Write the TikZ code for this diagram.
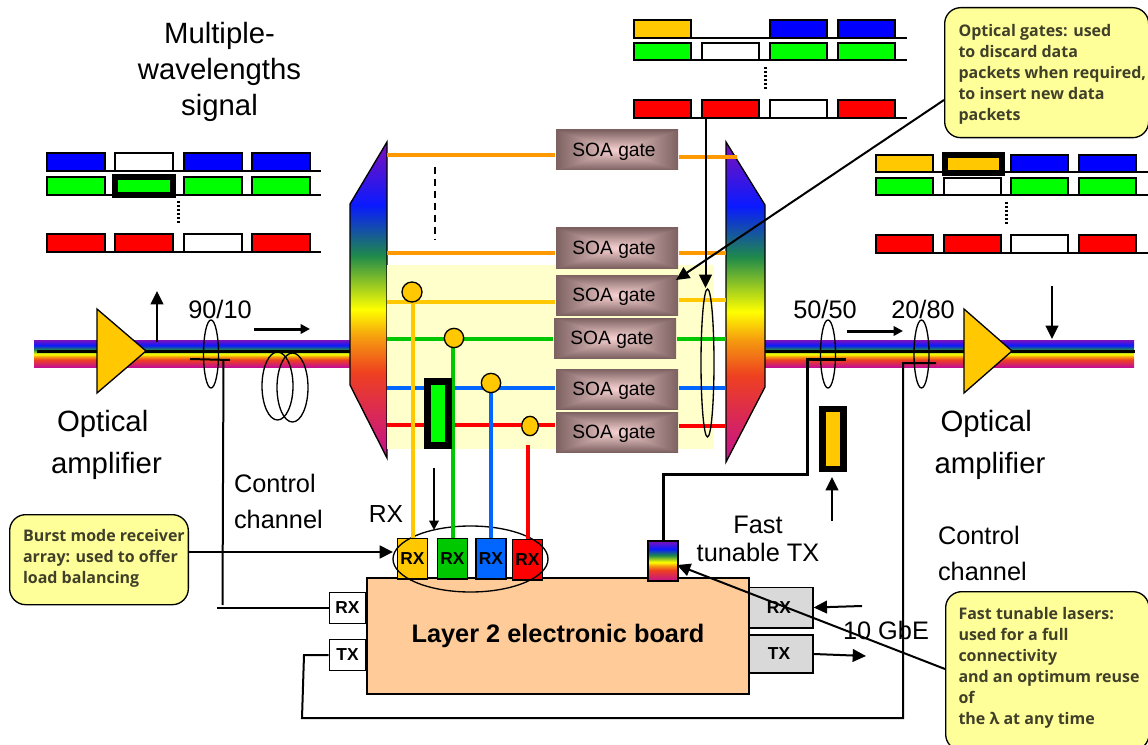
\documentclass[tikz,border=0pt]{standalone}
\usepackage{fontspec}
\setmainfont{Liberation Sans}
\newfontfamily\calloutfont{Open Sans}
\usetikzlibrary{arrows.meta,shapes.geometric}
\definecolor{gold}{HTML}{FFC800}
\definecolor{amber}{HTML}{FF9900}
\definecolor{linegreen}{HTML}{00C800}
\definecolor{lineblue}{HTML}{0066FF}
\definecolor{note}{HTML}{FFFF99}
\definecolor{notetext}{HTML}{40402A}
\definecolor{boardfill}{HTML}{FFCC99}
\definecolor{portgray}{HTML}{D9D9D9}
\definecolor{palegold}{HTML}{FFFFCC}
\definecolor{rbM}{HTML}{C4108F}
\definecolor{rbR}{HTML}{EE4020}
\definecolor{rbO}{HTML}{F59A0F}
\definecolor{rbY}{HTML}{FFFF00}
\definecolor{rbG}{HTML}{1F8A4A}
\definecolor{rbB}{HTML}{0A1AFF}
\definecolor{rbP}{HTML}{8010B8}
\pgfdeclareverticalshading{rainbowband}{100bp}{color(0bp)=(rbM); color(25bp)=(rbM); color(38.5bp)=(rbR); color(44bp)=(rbO); color(48.5bp)=(rbY); color(57bp)=(rbG); color(65bp)=(rbB); color(75bp)=(rbP); color(100bp)=(rbP)}
\pgfdeclarefunctionalshading{soashade}{\pgfpointorigin}{\pgfpoint{100bp}{100bp}}{}{
  50 sub abs exch 50 sub abs 2 copy lt {exch} if pop
  25 div dup 1 gt {pop 1} if
  dup 0.48 mul 0.97 exch sub exch 0.44 mul 0.82 exch sub dup
}
\tikzset{
  wdm/.style={line width=3pt},
  pkt/.style={draw=black,line width=1.5pt},
  pktline/.style={draw=black,line width=1.5pt},
  heavybox/.style={draw=black,line width=4.5pt},
  soagate/.style={shade,shading=soashade,minimum width=91.5pt,minimum height=30pt,inner sep=0pt,text height=13pt,text depth=3pt,font=\fontsize{14.4}{16}\selectfont},
  rxport/.style={draw=black,line width=1pt,minimum width=22.5pt,minimum height=30.5pt,inner sep=0pt,font=\fontsize{13}{15}\bfseries\selectfont},
  sideport/.style={draw=black,line width=1pt,inner sep=0pt,font=\fontsize{13}{15}\bfseries\selectfont},
  bigtext/.style={inner sep=0pt,font=\fontsize{22}{27}\selectfont},
  midtext/.style={inner sep=0pt,font=\fontsize{19}{27}\selectfont},
  callout/.style={draw=black,line width=1pt,fill=note,rounded corners=12pt,inner sep=0pt,anchor=north west},
  notetxt/.style={text=notetext,align=left,anchor=north west,inner sep=0pt,font=\fontsize{12}{15.7}\calloutfont\bfseries\selectfont},
  bigarrow/.style={-{Triangle[length=10pt,width=9.5pt]},line width=1.5pt},
  flowarrow/.style={-{Triangle[length=7pt,width=7pt]},line width=2.25pt},
  amp/.style={draw=black,line width=1pt,fill=gold},
  ringline/.style={draw=black,line width=1pt},
  coupler/.style={draw=black,line width=1pt,fill=gold,inner sep=0pt},
  packetdots/.style={line width=2.25pt,dash pattern=on 1.5pt off 1.5pt},
}
\begin{document}
\begin{tikzpicture}[x=.75pt,y=-.75pt,line width=1.5pt]
\path[use as bounding box] (0,0) rectangle (1148,745);
% fibres
\shade[shading=rainbowband] (34,340) rectangle (352,367);
\shade[shading=rainbowband] (763,340) rectangle (1134,367);
\draw[line width=2.25pt] (37,351.5) -- (352,351.5);
\draw[line width=2.25pt] (763,351.5) -- (1135,351.5);
% demux and mux
\shadedraw[shading=rainbowband,draw=black,line width=1pt] (387,142) -- (350,204) -- (350,385) -- (387,458) -- cycle;
\shadedraw[shading=rainbowband,draw=black,line width=1pt] (726,142) -- (765,205) -- (765,387) -- (726,462) -- cycle;
\fill[palegold] (387,265) rectangle (714,449);
\draw[line width=1pt,dash pattern=on 5pt off 4pt] (435,167) -- (435,240);
% gates
\node[soagate] (soaA) at (617,150) {SOA gate\kern4.5pt};
\node[soagate] (soaB) at (617,248) {SOA gate\kern4.5pt};
\node[soagate] (soaC) at (617,295) {SOA gate\kern4.5pt};
\node[soagate] (soaD) at (615,338) {SOA gate\kern4.5pt};
\node[soagate] (soaE) at (617,389) {SOA gate\kern4.5pt};
\node[soagate] (soaF) at (617,432) {SOA gate\kern4.5pt};
\foreach \n/\yi/\yo/\c in {A/155/157/amber,B/253/253/amber,C/302/300/gold,D/339/339/linegreen,E/387.5/387.5/lineblue,F/425/425.5/red} {
  \coordinate (in\n) at (387,\yi);
  \coordinate (out\n) at (726,\yo);
  \draw[wdm,draw=\c] (in\n) -- (soa\n.west |- in\n);
  \draw[wdm,draw=\c] (soa\n.east |- out\n) -- (out\n);
}
\draw[wdm,draw=amber] (outA) -- ++(11,0);
% board and receivers
\node[draw=black,line width=1pt,fill=boardfill,minimum width=286.5pt,minimum height=87pt,inner sep=0pt,font=\fontsize{19}{22}\bfseries\selectfont] (board) at (558,636) {Layer 2 electronic board};
\node[sideport,fill=white,minimum width=27.5pt,minimum height=23pt] (rxLeft) at (347.5,608) {RX};
\node[sideport,fill=white,minimum width=27.5pt,minimum height=23pt] (txLeft) at (347.5,655) {TX};
\node[sideport,fill=portgray,minimum width=48pt,minimum height=30.5pt] (rxRight) at (781,607.5) {RX\kern3pt};
\node[sideport,fill=portgray,minimum width=48pt,minimum height=28.5pt] (txRight) at (781,654) {TX\kern3pt};
\node[rxport,fill=gold] (rxO) at (412.5,558.5) {RX};
\node[rxport,fill=linegreen] (rxG) at (452.5,558.5) {RX};
\node[rxport,fill=lineblue] (rxB) at (491,558.5) {RX};
\node[rxport,fill=red] (rxR) at (527.5,559.5) {RX};
\draw[ringline] (470.5,559) ellipse (77.5 and 33);
% drops to the receivers
\coordinate (tapO) at (412.5,302);
\coordinate (tapG) at (452.5,348);
\coordinate (tapB) at (491,393);
\coordinate (tapR) at (527.5,445);
\draw[wdm,draw=gold] (tapO) -- (rxO.north);
\draw[wdm,draw=linegreen] (tapG) -- (rxG.north);
\draw[wdm,draw=lineblue] (tapB) -- (rxB.north);
\draw[wdm,draw=red] (tapR) -- (rxR.north);
\node[coupler,circle,minimum size=15pt] (cplO) at (412,292) {};
\node[coupler,circle,minimum size=14.5pt] (cplG) at (454,338) {};
\node[coupler,circle,minimum size=14.5pt] (cplB) at (491,383) {};
\node[coupler,ellipse,minimum width=12.5pt,minimum height=14.5pt] (cplR) at (530,426) {};
\draw[heavybox,line width=5.25pt,fill=green] (427.5,381.5) rectangle (448,445.5);
\draw[flowarrow,line width=2pt] (434,468) -- (434,530);
\shadedraw[shading=rainbowband,draw=black,line width=1pt] (648,541) rectangle (678,581);
\coordinate (txTop) at (663,541);
% packets left
\draw[pktline] (47,171) -- (321,171);
\draw[pktline] (47,195) -- (321,195);
\draw[pktline] (47,252) -- (321,252);
\foreach \x/\c in {47/blue,115/white,184/blue,252/blue} \draw[pkt,fill=\c] (\x,153) rectangle ++(58,18);
\foreach \x/\c in {47/green,184/green,252/green} \draw[pkt,fill=\c] (\x,177) rectangle ++(58,18);
\draw[heavybox,fill=green] (115,177) rectangle (173,195);
\foreach \x/\c in {47/red,115/red,184/white,252/red} \draw[pkt,fill=\c] (\x,234) rectangle ++(58,18);
\draw[packetdots] (178,201) -- (178,225);
% packets top
\draw[pktline] (634,38) -- (907,38);
\draw[pktline] (634,60) -- (907,60);
\draw[pktline] (634,118) -- (907,118);
\foreach \x/\c in {634/gold,770/blue,838/blue} \draw[pkt,fill=\c] (\x,20) rectangle ++(57,18);
\foreach \x/\c in {634/green,702/white,770/green,838/green} \draw[pkt,fill=\c] (\x,43) rectangle ++(57,17);
\foreach \x/\c in {634/red,702/red,770/white,838/red} \draw[pkt,fill=\c] (\x,100) rectangle ++(57,18);
\draw[packetdots] (765,67) -- (765,90);
% packets right
\draw[pktline] (876,172.5) -- (1148,172.5);
\draw[pktline] (876,195.5) -- (1148,195.5);
\draw[pktline] (876,253) -- (1148,253);
\foreach \x/\c in {876/gold,1011/blue,1079/blue} \draw[pkt,fill=\c] (\x,155) rectangle ++(57,17.5);
\draw[heavybox,fill=gold] (945,155) rectangle (1002,173);
\foreach \x/\c in {876/green,944/white,1011/green,1079/green} \draw[pkt,fill=\c] (\x,178) rectangle ++(57,17.5);
\foreach \x/\c in {876/red,944/red,1011/white,1079/red} \draw[pkt,fill=\c] (\x,235) rectangle ++(57,18);
\draw[packetdots] (1006,202) -- (1006,225);
% amplifiers
\draw[amp] (97,309) -- (146,351) -- (97,393) -- cycle;
\draw[amp] (964,309) -- (1012,351) -- (964,393) -- cycle;
\draw[bigarrow] (157,342) -- (157,291);
\draw[bigarrow] (1052,286) -- (1052,339);
\draw[flowarrow] (254,329) -- (310,329);
\draw[flowarrow] (847,331) -- (903,331);
% couplers and coil
\draw[ringline] (211,354) ellipse (7.5 and 34);
\draw[ringline] (828,354) ellipse (7.5 and 34);
\draw[ringline] (921.5,354) ellipse (7.5 and 34);
\draw[ringline] (277.5,386) ellipse (15.5 and 34);
\draw[ringline] (292.5,387.5) ellipse (15.5 and 34.5);
\draw[ringline] (707.5,363) ellipse (6.5 and 74);
% control paths
\draw (190,359) -- (230,360);
\draw (223.5,360) -- (222.5,605);
\coordinate (tapLeft) at (217,608);
\draw (tapLeft) -- (rxLeft.west);
\coordinate (loopA) at (304,655);
\coordinate (loopB) at (302,718);
\coordinate (loopC) at (903,718);
\coordinate (loopD) at (903,363);
\coordinate (loopE) at (936,363);
\draw (txLeft.west) -- (loopA) -- (loopB) -- (loopC) -- (loopD) -- (loopE);
\draw[line width=2.25pt] (806,359) -- (846,359);
\coordinate (tapRight) at (807.5,359);
\coordinate (bendRight) at (807.5,474);
\coordinate (bendTx) at (663,474);
\draw[line width=2.25pt] (tapRight) -- (bendRight) -- (bendTx) -- (txTop);
\draw[heavybox,line width=4.9pt,fill=gold] (822.5,409) rectangle (843.5,469);
\draw[bigarrow] (832,521) -- (832,477);
\coordinate (rxIn) at (862,606);
\coordinate (txOut) at (866,656);
\draw[bigarrow] (rxIn) -- (rxRight.east);
\draw[bigarrow] (txRight.east) -- (txOut);
\draw[bigarrow] (705.5,118) -- (705.5,288);
% labels
\node[bigtext,align=center] (lblSignal) at (219.5,72) {Multiple-\\wavelengths\\signal};
\node[bigtext,align=left,anchor=north west,font=\fontsize{22}{32}\selectfont] (lblAmpLeft) at (50,409) {\hspace*{4.5pt}Optical\\amplifier};
\node[bigtext,align=left,anchor=north west,font=\fontsize{22}{32}\selectfont] (lblAmpRight) at (933.5,409) {\hspace*{4.5pt}Optical\\amplifier};
\node[midtext] (lblNinety) at (220,309) {90/10};
\node[midtext] (lblFifty) at (825,309) {50/50};
\node[midtext] (lblTwenty) at (923,309) {20/80};
\node[midtext,align=left,anchor=north west] (lblCtrlLeft) at (233,473) {Control\\channel};
\node[midtext,align=left,anchor=north west] (lblCtrlRight) at (937,525) {Control\\channel};
\node[midtext,font=\fontsize{18.5}{22}\selectfont] (lblRx) at (386,514) {RX};
\node[midtext,align=center,font=\fontsize{19}{21}\selectfont] (lblFast) at (758,539) {Fast\\tunable TX};
\node[midtext] (lblGbe) at (886,630) {10 GbE};
% callouts
\node[callout,minimum width=153pt,minimum height=97.5pt] (noteGates) at (944,7) {};
\node[notetxt] (txtGates) at (957.5,23.5) {Optical gates: used\\to discard data\\packets when required,\\to insert new data\\packets};
\node[callout,minimum width=134pt,minimum height=67.5pt] (noteBurst) at (9,514) {};
\node[notetxt] (txtBurst) at (22,528.5) {Burst mode receiver\\array: used to offer\\load balancing};
\node[callout,minimum width=152.5pt,minimum height=119pt] (noteLasers) at (945,591) {};
\node[notetxt] (txtLasers) at (957.5,606.5) {Fast tunable lasers:\\used for a full\\connectivity\\and an optimum reuse\\of\\the λ at any time};
\coordinate (gatesFoot) at (944,100);
\coordinate (gatesTip) at (676,280);
\coordinate (lasersFoot) at (945,669);
\coordinate (lasersTip) at (677,565);
\coordinate (burstFoot) at (188,552);
\coordinate (burstTip) at (393,552);
\draw[bigarrow] (gatesFoot) -- (gatesTip);
\draw[bigarrow,line width=2pt] (burstFoot) -- (burstTip);
\draw[bigarrow] (lasersFoot) -- (lasersTip);
\end{tikzpicture}
\end{document}
